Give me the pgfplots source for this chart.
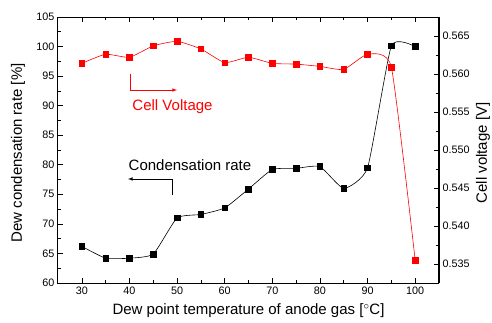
\documentclass[border=0pt]{standalone}
\usepackage{pgfplots}
\pgfplotsset{compat=1.18}
\usepackage{fontspec}
\setmainfont{Liberation Sans}
\begin{document}
\begin{tikzpicture}
\pgfplotsset{
  every axis/.append style={
    scale only axis, width=381pt, height=266pt,
    xmin=25, xmax=105,
    /pgf/number format/assume math mode=true,
    tick label style={font=\fontsize{10.8}{12}\selectfont},
    label style={font=\fontsize{15}{17}\selectfont},
    major tick length=5pt, minor tick length=3pt,
    tick style={black, line width=0.6pt},
    axis line style={line width=1pt},
  }
}
\path[use as bounding box] (-58pt,-39pt) rectangle (434pt,283pt);
\begin{axis}[
  at={(0,0)}, anchor=south west,
  ymin=60, ymax=105,
  xtick={30,40,...,100}, minor x tick num=1,
  ytick={60,65,...,105}, minor y tick num=1,
  ytick pos=left,
  xlabel={Dew point temperature of anode gas [$^{\circ}$C]},
  ylabel={Dew condensation rate [\%]},
  xlabel style={at={(rel axis cs:0.5,0)}, yshift=-28pt, anchor=center},
  ylabel style={at={(rel axis cs:0,0.5)}, yshift=40pt, xshift=-3pt, anchor=center},
  clip=false,
]
\addplot[black, line width=0.6pt, smooth, tension=0.3, mark=square*, mark size=2.8pt] coordinates {
(30,66.2) (35,64.2) (40,64.2) (45,64.9) (50,71.0) (55,71.6) (60,72.7) (65,75.9)
(70,79.2) (75,79.4) (80,79.7) (85,76.0) (90,79.5) (95,100.1) (100,100.0)
};
\draw[red, line width=0.6pt] (axis cs:40.1,95.4) -- (axis cs:40.1,92.65);
\draw[red, line width=0.6pt, -latex] (axis cs:40.1,92.65) -- (axis cs:50,92.65);
\node[red, anchor=west, font=\fontsize{15}{17}\selectfont, inner sep=0pt] at (axis cs:40.6,89.8) {Cell Voltage};
\node[black, anchor=west, font=\fontsize{15}{17}\selectfont, inner sep=0pt] at (axis cs:39.8,80.0) {Condensation rate};
\draw[black, line width=0.6pt] (axis cs:49.0,74.9) -- (axis cs:49.0,77.6);
\draw[black, line width=0.6pt, -latex] (axis cs:49.0,77.6) -- (axis cs:39.7,77.6);
\end{axis}
\begin{axis}[
  at={(0,0)}, anchor=south west,
  axis x line=none, axis y line*=right,
  ymin=0.5325, ymax=0.5675,
  ytick={0.535,0.540,...,0.566}, minor y tick num=1,
  yticklabel style={/pgf/number format/fixed, /pgf/number format/fixed zerofill, /pgf/number format/precision=3},
  ylabel={Cell voltage [V]},
  ylabel style={at={(rel axis cs:1,0.5)}, yshift=-44pt, xshift=-3pt, anchor=center},
]
\addplot[red, line width=0.6pt, smooth, tension=0.3, mark=square*, mark size=2.8pt] coordinates {
(30,0.5614) (35,0.5626) (40,0.5622) (45,0.5637) (50,0.5643) (55,0.5633) (60,0.5615) (65,0.5622)
(70,0.5614) (75,0.5613) (80,0.5610) (85,0.5606) (90,0.5626) (95,0.5609) (100,0.5355)
};
\end{axis}
\end{tikzpicture}
\end{document}
